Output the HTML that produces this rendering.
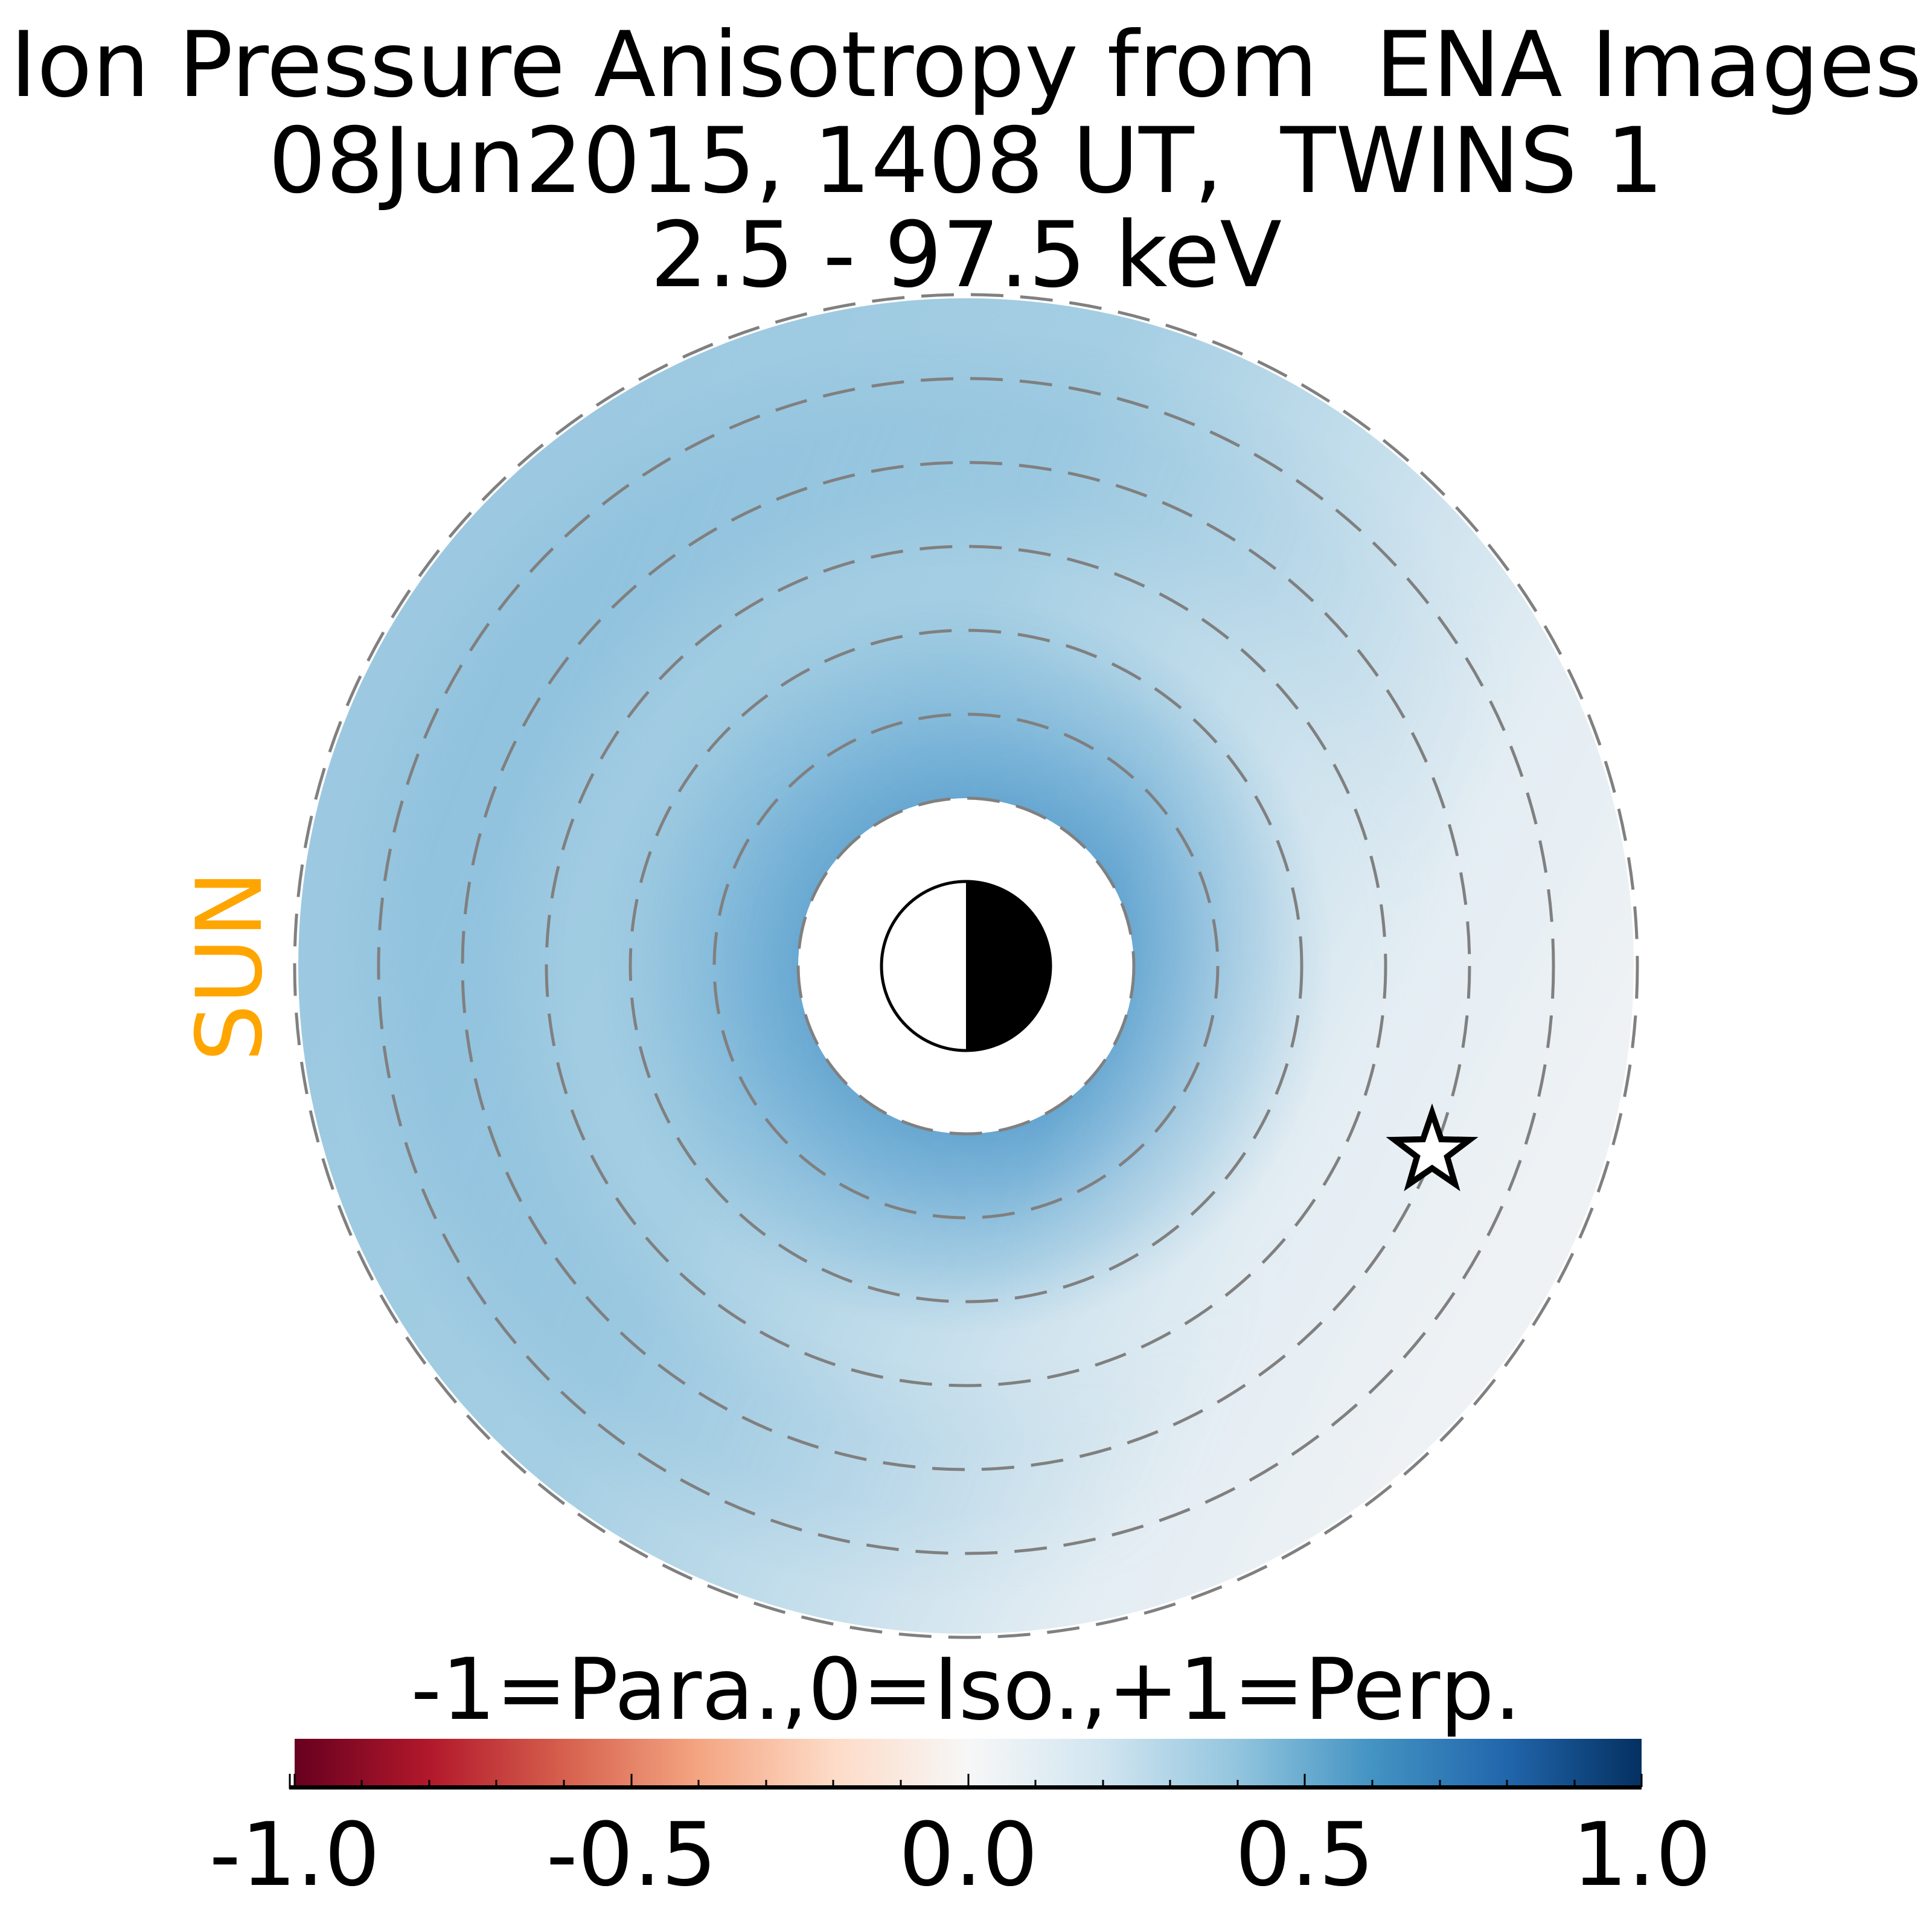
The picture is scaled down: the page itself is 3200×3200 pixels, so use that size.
<!DOCTYPE html>
<html><head><meta charset="utf-8"><style>
html,body{margin:0;padding:0;background:#fff;}
svg{display:block;}
text{font-family:"DejaVu Sans","Liberation Sans",sans-serif;white-space:pre;}
</style></head><body>
<svg width="3200" height="3200" viewBox="0 0 3200 3200" xmlns="http://www.w3.org/2000/svg">
<defs>
<linearGradient id="base" x1="0.1" y1="0.35" x2="0.9" y2="0.75">
<stop offset="0" stop-color="#9cc9e1"/>
<stop offset="0.35" stop-color="#a4cee3"/>
<stop offset="0.6" stop-color="#c6dfec"/>
<stop offset="0.8" stop-color="#e3edf3"/>
<stop offset="1" stop-color="#eff2f5"/>
</linearGradient>
<radialGradient id="ring" cx="1600" cy="1600" r="1105" gradientUnits="userSpaceOnUse">
<stop offset="0.25" stop-color="#5a9fcd" stop-opacity="0.9"/>
<stop offset="0.33" stop-color="#64a6d2" stop-opacity="0.75"/>
<stop offset="0.45" stop-color="#7ab5d8" stop-opacity="0.45"/>
<stop offset="0.55" stop-color="#8abfdd" stop-opacity="0"/>
</radialGradient>
<radialGradient id="ring2" cx="1600" cy="1600" r="1105" gradientUnits="userSpaceOnUse">
<stop offset="0.6" stop-color="#84bbdb" stop-opacity="0"/>
<stop offset="0.72" stop-color="#84bbdb" stop-opacity="0.6"/>
<stop offset="0.82" stop-color="#84bbdb" stop-opacity="0.6"/>
<stop offset="0.95" stop-color="#84bbdb" stop-opacity="0"/>
</radialGradient>
<linearGradient id="mk" x1="0" y1="0.2" x2="1" y2="0.5">
<stop offset="0" stop-color="#fff" stop-opacity="0.5"/>
<stop offset="0.6" stop-color="#fff" stop-opacity="1"/>
<stop offset="0.8" stop-color="#fff" stop-opacity="0.3"/>
<stop offset="1" stop-color="#fff" stop-opacity="0"/>
</linearGradient>
<linearGradient id="mk2" x1="0" y1="0.3" x2="1" y2="0.7">
<stop offset="0.1" stop-color="#fff" stop-opacity="1"/>
<stop offset="0.5" stop-color="#fff" stop-opacity="0.4"/>
<stop offset="0.7" stop-color="#fff" stop-opacity="0"/>
</linearGradient>
<mask id="m"><rect x="0" y="0" width="3200" height="3200" fill="url(#mk)"/></mask>
<mask id="m2"><rect x="0" y="0" width="3200" height="3200" fill="url(#mk2)"/></mask>
<linearGradient id="cb" x1="0" y1="0" x2="1" y2="0">
<stop offset="0" stop-color="#67001f"/><stop offset="0.1" stop-color="#b2182b"/>
<stop offset="0.2" stop-color="#d6604d"/><stop offset="0.3" stop-color="#f4a582"/>
<stop offset="0.4" stop-color="#fddbc7"/><stop offset="0.5" stop-color="#f7f7f7"/>
<stop offset="0.6" stop-color="#d1e5f0"/><stop offset="0.7" stop-color="#92c5de"/>
<stop offset="0.8" stop-color="#4393c3"/><stop offset="0.9" stop-color="#2166ac"/>
<stop offset="1" stop-color="#053061"/>
</linearGradient>
</defs>
<text x="1600" y="159" font-size="150" text-anchor="middle" xml:space="preserve">Ion Pressure Anisotropy from  ENA Images</text>
<text x="1600" y="318" font-size="150" text-anchor="middle" xml:space="preserve">08Jun2015, 1408 UT,  TWINS 1</text>
<text x="1600" y="474" font-size="150" text-anchor="middle">2.5 - 97.5 keV</text>

<circle cx="1600" cy="1600" r="1106" fill="url(#base)"/>
<circle cx="1600" cy="1600" r="1106" fill="url(#ring2)" mask="url(#m2)"/>
<circle cx="1600" cy="1600" r="1106" fill="url(#ring)" mask="url(#m)"/>
<circle cx="1600" cy="1600" r="278" fill="#fff"/>
<g fill="none" stroke="#808080" stroke-width="5" stroke-dasharray="54 28">
<circle cx="1600" cy="1600" r="278"/><circle cx="1600" cy="1600" r="417"/>
<circle cx="1600" cy="1600" r="556"/><circle cx="1600" cy="1600" r="695"/>
<circle cx="1600" cy="1600" r="834"/><circle cx="1600" cy="1600" r="973"/>
<circle cx="1600" cy="1600" r="1112"/>
</g>
<path d="M1600 1458 A142 142 0 0 1 1600 1742 Z" fill="#000"/>
<circle cx="1600" cy="1600" r="140" fill="none" stroke="#000" stroke-width="5"/>
<polygon points="2372,1843 2387,1887 2434,1888 2397,1916 2410,1961 2372,1935 2334,1961 2347,1916 2310,1888 2357,1887" fill="#fff" stroke="#000" stroke-width="10" stroke-linejoin="miter"/>
<text transform="translate(432,1600) rotate(-90)" font-size="150" fill="#ffa500" text-anchor="middle">SUN</text>

<text x="1600" y="2847" font-size="141" text-anchor="middle">-1=Para.,0=Iso.,+1=Perp.</text>
<rect x="488" y="2880" width="2231" height="80" fill="url(#cb)"/>
<g stroke="#000" stroke-width="3">
<line x1="488" y1="2938" x2="488" y2="2960"/><line x1="711" y1="2948" x2="711" y2="2960"/>
<line x1="934" y1="2948" x2="934" y2="2960"/><line x1="1157" y1="2948" x2="1157" y2="2960"/>
<line x1="1380" y1="2948" x2="1380" y2="2960"/><line x1="1604" y1="2938" x2="1604" y2="2960"/>
<line x1="1827" y1="2948" x2="1827" y2="2960"/><line x1="2050" y1="2948" x2="2050" y2="2960"/>
<line x1="2273" y1="2948" x2="2273" y2="2960"/><line x1="2496" y1="2948" x2="2496" y2="2960"/>
<line x1="2719" y1="2938" x2="2719" y2="2960"/>
<line x1="599" y1="2948" x2="599" y2="2960"/><line x1="822" y1="2948" x2="822" y2="2960"/>
<line x1="1046" y1="2938" x2="1046" y2="2960"/><line x1="1269" y1="2948" x2="1269" y2="2960"/>
<line x1="1492" y1="2948" x2="1492" y2="2960"/><line x1="1715" y1="2948" x2="1715" y2="2960"/>
<line x1="1938" y1="2948" x2="1938" y2="2960"/><line x1="2161" y1="2938" x2="2161" y2="2960"/>
<line x1="2385" y1="2948" x2="2385" y2="2960"/><line x1="2608" y1="2948" x2="2608" y2="2960"/>
<line x1="480" y1="2938" x2="480" y2="2963"/>
</g>
<rect x="479" y="2957" width="2240" height="7" fill="#000"/>
<g font-size="145" text-anchor="middle">
<text x="488" y="3122">-1.0</text><text x="1046" y="3122">-0.5</text>
<text x="1604" y="3122">0.0</text><text x="2161" y="3122">0.5</text>
<text x="2719" y="3122">1.0</text>
</g>
</svg>
</body></html>
